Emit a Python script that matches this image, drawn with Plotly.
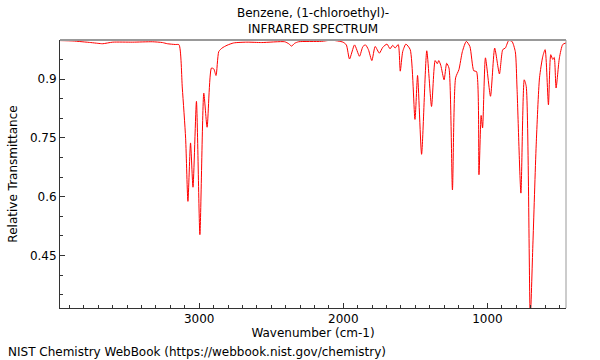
import plotly.graph_objects as go

wavenumber = [3965, 3876, 3752, 3703, 3669, 3600, 3462, 3324, 3255, 3221, 3166, 3140,
              3117, 3094, 3078, 3060, 3043, 3019, 2995, 2968, 2945, 2915, 2899, 2883,
              2864, 2841, 2807, 2761, 2669, 2566, 2407, 2379, 2359, 2338, 2310, 2152,
              2083, 2002, 1979, 1957, 1922, 1888, 1864, 1846, 1826, 1802, 1779, 1750,
              1726, 1697, 1676, 1657, 1641, 1619, 1605, 1588, 1566, 1536, 1503, 1485,
              1457, 1421, 1388, 1363, 1348, 1338, 1324, 1301, 1283, 1267, 1243, 1221,
              1198, 1174, 1147, 1122, 1095, 1076, 1059, 1044, 1034, 1014, 979, 950,
              917, 894, 876, 853, 830, 807, 795, 768, 745, 731, 703, 685, 662, 639,
              616, 600, 577, 561, 547, 537, 524, 501, 478, 455]
transmittance = [0.998, 0.997, 0.993, 0.991, 0.990, 0.994, 0.994, 0.995, 0.993, 0.990, 0.988, 0.9875,
                 0.877, 0.749, 0.588, 0.737, 0.624, 0.843, 0.503, 0.864, 0.777, 0.928, 0.926, 0.909,
                 0.970, 0.979, 0.986, 0.992, 0.994, 0.993, 0.995, 0.990, 0.984, 0.991, 0.995, 0.996,
                 0.999, 0.994, 0.987, 0.951, 0.987, 0.958, 0.983, 0.987, 0.975, 0.947, 0.983, 0.966,
                 0.981, 0.989, 0.977, 0.986, 0.979, 0.988, 0.920, 0.970, 0.989, 0.975, 0.797, 0.909,
                 0.708, 0.972, 0.830, 0.947, 0.939, 0.947, 0.935, 0.898, 0.940, 0.928, 0.617, 0.903,
                 0.924, 0.970, 0.996, 0.983, 0.921, 0.919, 0.656, 0.807, 0.775, 0.954, 0.856, 0.979,
                 0.913, 0.975, 0.979, 0.998, 0.996, 0.970, 0.877, 0.609, 0.898, 0.881, 0.29, 0.477, 0.732, 0.903,
                 0.958, 0.975, 0.834, 0.962, 0.950, 0.955, 0.877, 0.954, 0.988, 0.992]

x_ticks = [3000, 2000, 1000]
y_ticks = [0.45, 0.6, 0.75, 0.9]

title_line1 = "Benzene, (1-chloroethyl)-"
title_line2 = "INFRARED SPECTRUM"
x_label = "Wavenumber (cm-1)"
y_label = "Relative Transmittance"
footer = "NIST Chemistry WebBook (https://webbook.nist.gov/chemistry)"

font_family = "DejaVu Sans"

fig = go.Figure()
fig.add_trace(go.Scatter(
    x=wavenumber, y=transmittance, mode="lines",
    line=dict(color="#ff0000", width=1, shape="spline", smoothing=0.6),
    hoverinfo="skip", showlegend=False, cliponaxis=True,
))

fig.update_layout(
    width=600, height=360,
    margin=dict(l=57, r=34, t=40, b=52),
    paper_bgcolor="white", plot_bgcolor="white",
    font=dict(family=font_family, size=12, color="black"),
    xaxis=dict(
        range=[3965.5, 455.2], tickvals=x_ticks, ticktext=[str(v) for v in x_ticks],
        ticks="inside", ticklen=5, tickcolor="#333", showline=True, linecolor="#333",
        linewidth=1, showgrid=False, zeroline=False,
        minor=dict(dtick=100, tick0=0, ticks="inside", ticklen=3, tickcolor="#333", showgrid=False),
        title=dict(text=x_label, standoff=2, font=dict(size=12)),
        tickfont=dict(size=12),
    ),
    yaxis=dict(
        range=[0.316, 0.9995], tickvals=y_ticks, ticktext=["0.45", "0.6", "0.75", "0.9"],
        ticks="inside", ticklen=5, tickcolor="#333", showline=True, linecolor="#333",
        linewidth=1, showgrid=False, zeroline=False,
        minor=dict(dtick=0.05, tick0=0, ticks="inside", ticklen=3, tickcolor="#333", showgrid=False),
        title=dict(text=y_label, standoff=9, font=dict(size=12)),
        tickfont=dict(size=12),
    ),
    shapes=[
        dict(type="line", xref="paper", yref="paper", x0=0, x1=1, y0=1, y1=1,
             line=dict(color="#999999", width=2)),
        dict(type="line", xref="paper", yref="paper", x0=1, x1=1, y0=0, y1=1,
             line=dict(color="#999999", width=1)),
    ],
    annotations=[
        dict(text=title_line1, xref="paper", yref="paper", x=0.5, y=1, yshift=27,
             showarrow=False, xanchor="center", yanchor="middle", font=dict(size=12)),
        dict(text=title_line2, xref="paper", yref="paper", x=0.5, y=1, yshift=11,
             showarrow=False, xanchor="center", yanchor="middle", font=dict(size=12)),
        dict(text=footer, xref="paper", yref="paper", x=-57/509, y=0, yshift=-44, xshift=3,
             showarrow=False, xanchor="left", yanchor="middle", font=dict(size=12)),
    ],
)

fig.write_html("out.html", config={"displayModeBar": False},
               post_script="document.body.style.margin='0';document.body.style.overflow='hidden';")
